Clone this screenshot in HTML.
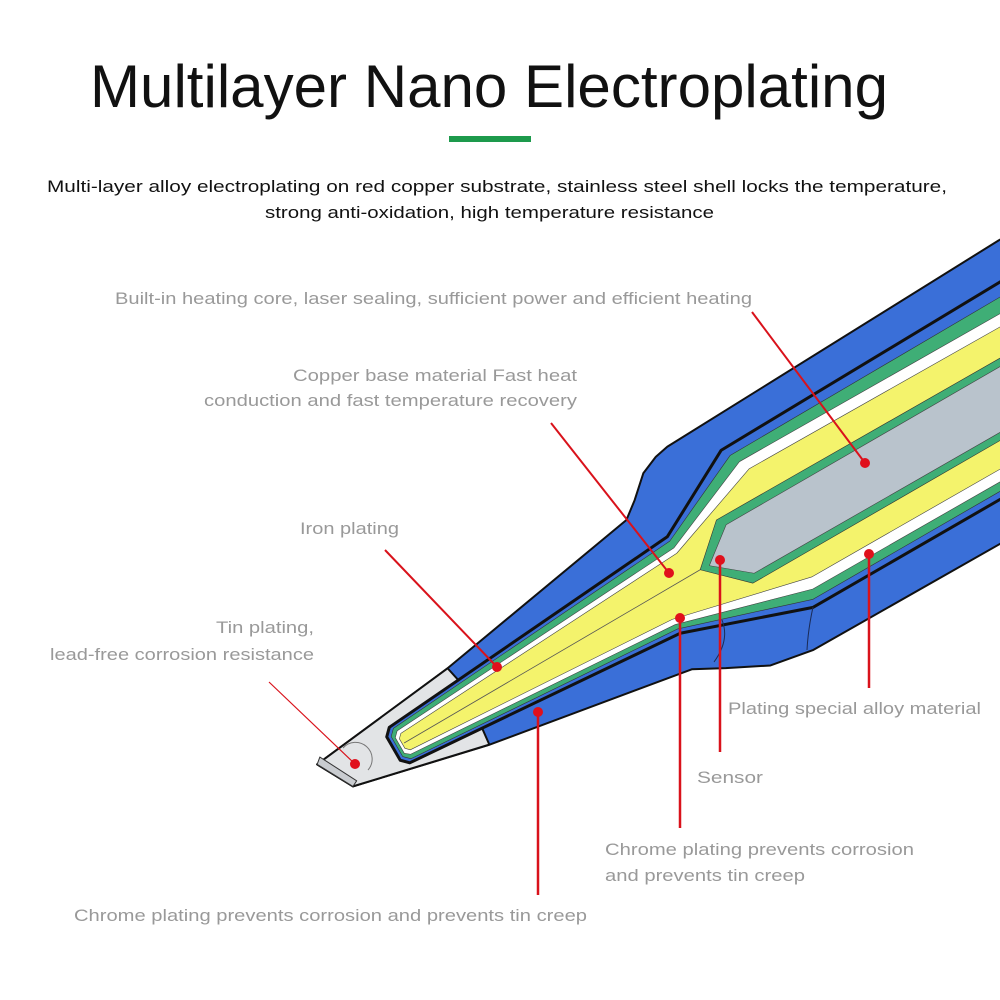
<!DOCTYPE html>
<html><head><meta charset="utf-8"><style>
html,body{margin:0;padding:0;background:#fff;}
svg{display:block;font-family:"Liberation Sans",Arial,sans-serif;}
</style></head><body>
<svg width="1000" height="1000" viewBox="0 0 1000 1000" xmlns="http://www.w3.org/2000/svg">
<rect width="1000" height="1000" fill="#fff"/>
<text x="90" y="107" font-size="60" fill="#111" textLength="798" lengthAdjust="spacingAndGlyphs">Multilayer Nano Electroplating</text>
<rect x="449" y="136" width="82" height="6" fill="#1d9a4c"/>
<text x="47" y="192" font-size="17" fill="#111" textLength="900" lengthAdjust="spacingAndGlyphs">Multi-layer alloy electroplating on red copper substrate, stainless steel shell locks the temperature,</text>
<text x="265" y="218" font-size="17" fill="#111" textLength="449" lengthAdjust="spacingAndGlyphs">strong anti-oxidation, high temperature resistance</text>

<g transform="translate(392,750) rotate(-30)" stroke-linejoin="round">
  <!-- outer blue -->
  <polygon points="-72,-25 89,-43 318,-82 335,-95 356,-114 375,-122 390,-125 780,-138 1000,-140 1000,128 415,124 370,116 330,96 300,80 86,44 -52,12" fill="#3a6fd8" stroke="#111" stroke-width="2"/>
  <!-- silver tip -->
  <polygon points="-72,-25 89,-43 94,-20 87,44 -52,12" fill="#e2e4e6" stroke="#111" stroke-width="2"/>
  <polygon points="-72,-25 -66,-30 -46,9 -52,12" fill="#c9ccd0" stroke="#333" stroke-width="1"/>
  <!-- black cavity line -->
  <polygon points="2,-14 9,-21 345,-47 435,-95 1000,-106 1000,87 436,87 308,43 9,20 2,13" fill="#3a6fd8" stroke="#111" stroke-width="3"/>
  <!-- green -->
  <polygon points="6,-12 12,-18 345,-42 440,-86 1000,-90 1000,80 440,80 308,38 12,17 6,11" fill="#3fae76" stroke="#333" stroke-width="0.6"/>
  <!-- white -->
  <polygon points="9,-9 14,-14 345,-34 445,-76 1000,-72 1000,73 445,71 308,33 14,13 9,9" fill="#ffffff" stroke="#444" stroke-width="0.6"/>
  <!-- yellow -->
  <polygon points="12,-6 16,-10 345,-28 450,-65 1000,-60 1000,62 450,60 308,27 16,9 12,5" fill="#f4f36c" stroke="#444" stroke-width="0.6"/>
  <line x1="14" y1="0" x2="357" y2="-2" stroke="#555" stroke-width="0.8"/>
  <!-- core -->
  <polygon points="396,-37 357,-2 396,36 1000,36 1000,-34" fill="#3fae76" stroke="#333" stroke-width="0.6"/>
  <polygon points="402,-28 367,-1 402,28 1000,30 1000,-28" fill="#b9c3cc" stroke="#444" stroke-width="0.6"/>
</g>
<!-- tip circle -->
<path d="M343,748 A16,16 0 0 1 368,770" fill="none" stroke="#777" stroke-width="1"/>
<!-- bevel lines on bottom blue -->
<path d="M813,607 Q808,630 807,650" fill="none" stroke="#1a2a55" stroke-width="1"/>
<path d="M722,620 Q730,640 714,662" fill="none" stroke="#1a2a55" stroke-width="1"/>

<g fill="#999" font-size="17">
<text x="115" y="304" textLength="637" lengthAdjust="spacingAndGlyphs">Built-in heating core, laser sealing, sufficient power and efficient heating</text>
<text x="293" y="381" textLength="284" lengthAdjust="spacingAndGlyphs">Copper base material Fast heat</text>
<text x="204" y="406" textLength="373" lengthAdjust="spacingAndGlyphs">conduction and fast temperature recovery</text>
<text x="300" y="534" textLength="99" lengthAdjust="spacingAndGlyphs">Iron plating</text>
<text x="216" y="633" textLength="98" lengthAdjust="spacingAndGlyphs">Tin plating,</text>
<text x="50" y="660" textLength="264" lengthAdjust="spacingAndGlyphs">lead-free corrosion resistance</text>
<text x="728" y="714" textLength="253" lengthAdjust="spacingAndGlyphs">Plating special alloy material</text>
<text x="697" y="783" textLength="66" lengthAdjust="spacingAndGlyphs">Sensor</text>
<text x="605" y="855" textLength="309" lengthAdjust="spacingAndGlyphs">Chrome plating prevents corrosion</text>
<text x="605" y="881" textLength="200" lengthAdjust="spacingAndGlyphs">and prevents tin creep</text>
<text x="74" y="921" textLength="513" lengthAdjust="spacingAndGlyphs">Chrome plating prevents corrosion and prevents tin creep</text>
</g>

<g stroke="#d9121b" stroke-width="2" fill="none">
<line x1="752" y1="312" x2="865" y2="463"/>
<line x1="551" y1="423" x2="669" y2="573"/>
<line x1="385" y1="550" x2="497" y2="667"/>
<line x1="269" y1="682" x2="355" y2="764" stroke-width="1.2"/>
<line x1="538" y1="710" x2="538" y2="895" stroke-width="2.5"/>
<line x1="680" y1="618" x2="680" y2="828" stroke-width="2.5"/>
<line x1="720" y1="560" x2="720" y2="752" stroke-width="2.5"/>
<line x1="869" y1="554" x2="869" y2="688" stroke-width="2.5"/>
</g>
<g fill="#e0101c">
<circle cx="865" cy="463" r="5"/>
<circle cx="669" cy="573" r="5"/>
<circle cx="497" cy="667" r="5"/>
<circle cx="355" cy="764" r="5"/>
<circle cx="538" cy="712" r="5"/>
<circle cx="680" cy="618" r="5"/>
<circle cx="720" cy="560" r="5"/>
<circle cx="869" cy="554" r="5"/>
</g>
</svg>
</body></html>
